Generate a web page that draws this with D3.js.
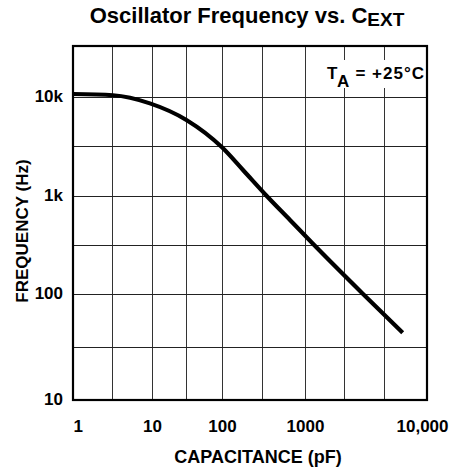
<!DOCTYPE html>
<html><head><meta charset="utf-8">
<script src="https://cdn.jsdelivr.net/npm/d3@7"></script>
<style>
body{margin:0;background:#fff}
svg{display:block;font-family:"Liberation Sans",Arial,Helvetica,sans-serif;font-weight:bold;fill:#000}
</style>
</head><body>
<svg id="chart" width="449" height="470"></svg>
<script>
// ---- data ----
const capacitancePF = [1, 3.2, 9.4, 31, 100, 179, 346, 659, 1135, 2990, 6320];
const frequencyHz   = [10700, 10400, 8620, 5860, 3100, 1830, 1000, 569, 335, 100, 43];
const xTickValues = [1, 10, 100, 1000, 10000];
const xTickLabels = ["1", "10", "100", "1000", "10,000"];
const yTickValues = [10, 100, 1000, 10000];
const yTickLabels = ["10", "100", "1k", "10k"];
const xGridValues = [3.2, 10, 31, 100, 310, 1000, 2100, 4500];
const yGridValues = [31.6, 100, 316, 1000, 3162, 10000];
const chartTitle = "Oscillator Frequency vs. C";
const chartTitleSub = "EXT";
const xTitle = "CAPACITANCE (pF)";
const yTitle = "FREQUENCY (Hz)";

// ---- layout ----
const L = 73, R = 427, T = 46, B = 400;
const svg = d3.select("#chart");

const x = d3.scaleLog().domain([1, 10, 100, 1000, 10000]).range([L, 152, 222, 305, R]);
const y = d3.scaleLog().domain([10, 100, 1000, 10000, 31623]).range([B, 294, 196, 97, T]);

// grid
svg.append("g").selectAll("line").data(xGridValues).join("line")
  .attr("x1", d => x(d)).attr("x2", d => x(d)).attr("y1", T).attr("y2", B)
  .attr("stroke", "#333").attr("stroke-width", 1).attr("shape-rendering", "crispEdges");
svg.append("g").selectAll("line").data(yGridValues).join("line")
  .attr("y1", d => y(d)).attr("y2", d => y(d)).attr("x1", L).attr("x2", R)
  .attr("stroke", "#222").attr("stroke-width", 1).attr("shape-rendering", "crispEdges");

// annotation with white background
const ann = svg.append("g");
const annText = ann.append("text").attr("x", 425).attr("y", 79)
  .attr("text-anchor", "end").attr("font-size", 17).attr("letter-spacing", 1);
annText.append("tspan").text("T");
annText.append("tspan").attr("dy", 8).text("A");
annText.append("tspan").attr("dy", -8).text(" = +25\u00B0C");
const bb = annText.node().getBBox();
ann.insert("rect", "text").attr("x", bb.x - 2).attr("y", 60).attr("width", bb.width + 2)
  .attr("height", 28).attr("fill", "#fff");

// curve
const pts = capacitancePF.map((c, i) => [c, frequencyHz[i]]);
svg.append("path").datum(pts)
  .attr("d", d3.line().x(d => x(d[0])).y(d => y(d[1])).curve(d3.curveMonotoneX))
  .attr("fill", "none").attr("stroke", "#000").attr("stroke-width", 4.2);

// frame
svg.append("rect").attr("x", L).attr("y", T).attr("width", R - L).attr("height", B - T)
  .attr("fill", "none").attr("stroke", "#000").attr("stroke-width", 2.2);

// axes
const xAxis = svg.append("g").attr("transform", `translate(0,${B})`)
  .call(d3.axisBottom(x).tickValues(xTickValues).tickSize(0).tickPadding(20)
    .tickFormat((d, i) => xTickLabels[i]));
xAxis.select(".domain").remove();
xAxis.selectAll("text").attr("font-size", 17).attr("fill", "#000");
xAxis.selectAll(".tick").filter((d, i) => i === 0).select("text").attr("text-anchor", "start");
xAxis.selectAll(".tick").filter((d, i) => i === xTickValues.length - 1).select("text")
  .attr("text-anchor", "end").attr("dx", 21);
xAxis.attr("font-family", null).attr("font-size", null);

const yAxis = svg.append("g").attr("transform", `translate(${L},0)`)
  .call(d3.axisLeft(y).tickValues(yTickValues).tickSize(0).tickPadding(10)
    .tickFormat((d, i) => yTickLabels[i]));
yAxis.select(".domain").remove();
yAxis.selectAll("text").attr("font-size", 17).attr("fill", "#000").attr("dy", "0.25em");
yAxis.attr("font-family", null).attr("font-size", null);

// titles
const title = svg.append("text").attr("x", 247).attr("y", 23)
  .attr("text-anchor", "middle").attr("font-size", 22);
title.append("tspan").text(chartTitle);
title.append("tspan").attr("dy", 3).attr("font-size", 19).text(chartTitleSub);

svg.append("text").attr("x", 258).attr("y", 463).attr("text-anchor", "middle")
  .attr("font-size", 18).text(xTitle);
svg.append("text").attr("transform", "translate(28,231) rotate(-90)")
  .attr("text-anchor", "middle").attr("font-size", 17).text(yTitle);
</script>
</body></html>
